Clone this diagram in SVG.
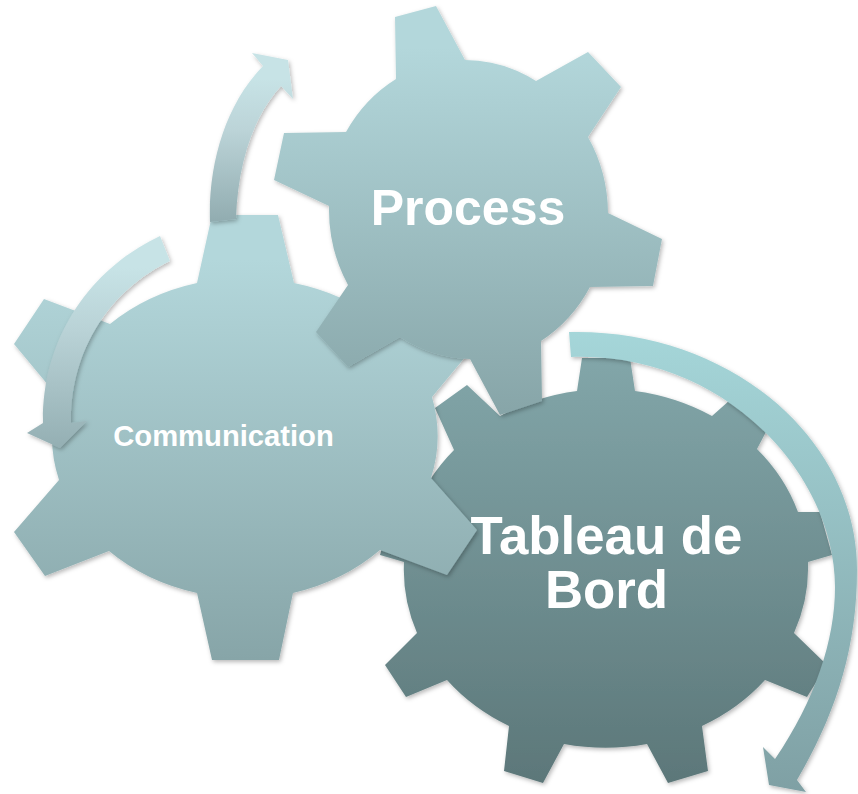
<svg xmlns="http://www.w3.org/2000/svg" width="858" height="794" viewBox="0 0 858 794">
<style>
.lbl{font-family:"Liberation Sans",Arial,sans-serif;font-weight:700;fill:#fff;text-anchor:middle}
.sh{filter:url(#shadow)}
</style>
<defs>
<filter id="shadow" x="-10%" y="-10%" width="120%" height="120%"><feDropShadow dx="1.5" dy="2" stdDeviation="2" flood-color="#000" flood-opacity="0.28"/></filter>
<linearGradient id="gLight" x1="0" y1="0" x2="0" y2="1"><stop offset="0.1" stop-color="#b3d7db"/><stop offset="1" stop-color="#87a5a8"/></linearGradient>
<linearGradient id="gDark" x1="0" y1="0" x2="0" y2="1"><stop offset="0" stop-color="#82a6a9"/><stop offset="1" stop-color="#5c7779"/></linearGradient>
<linearGradient id="gA1" x1="0" y1="0" x2="0" y2="1"><stop offset="0.15" stop-color="#c7e3e6"/><stop offset="0.45" stop-color="#bcd4d8"/><stop offset="1" stop-color="#91acb0"/></linearGradient>
<linearGradient id="gA2" x1="0" y1="0" x2="0" y2="1"><stop offset="0.15" stop-color="#c7e3e6"/><stop offset="0.45" stop-color="#b9d2d6"/><stop offset="1" stop-color="#94afb3"/></linearGradient>
<linearGradient id="gA3" x1="0" y1="0" x2="0" y2="1"><stop offset="0" stop-color="#a5d6d9"/><stop offset="1" stop-color="#7fa0a4"/></linearGradient>
</defs>
<rect width="858" height="794" fill="#fff"/>
<g id="node-tableau">
<path class="sh" fill="url(#gDark)" d="M582,358 L630,358 L635,391 A203,178 0 0 1 712,416 L730,400 L767,430 L757,449 A203,178 0 0 1 798,512 L820,512 L832,555 L808,562 A203,178 0 0 1 794,633 L827,665 L807,697 L765,680 A203,178 0 0 1 702,726 L708,771 L668,783 L647,744 A203,178 0 0 1 564,744 L543,783 L504,771 L509,726 A203,178 0 0 1 447,680 L406,697 L385,665 L417,633 A203,178 0 0 1 404,562 L380,555 L392,512 L414,512 A203,178 0 0 1 454,450 L435,408 L467,385 L500,416 A203,178 0 0 1 577,391 Z"/>
</g>
<g id="node-communication">
<path class="sh" fill="url(#gLight)" d="M212,215 L278,215 L294,283 A195,162 0 0 1 378,320 L446,299 L476,344 L432,397 A192,162 0 0 1 431,478 L477,530 L447,575 L380,550 A195,162 0 0 1 293,593 L279,660 L212,660 L197,593 A195,162 0 0 1 109,551 L45,576 L14,532 L59,480 A192,162 0 0 1 58,397 L14,344 L44,299 L110,324 A195,162 0 0 1 197,283 Z"/>
<text class="lbl" x="223.500" y="446" font-size="29.200">Communication</text>
</g>
<g id="node-process">
<path class="sh" fill="url(#gLight)" d="M395,17 L436,6 L465,60 A140,150 0 0 1 536,81 L588,52 L621,87 L588,137 A140,150 0 0 1 608,213 L662,239 L653,286 L590,287 A140,150 0 0 1 541,341 L542,401 L500,415 L470,359 A140,150 0 0 1 400,337 L348,367 L316,332 L348,285 A140,150 0 0 1 329,206 L274,180 L284,133 L346,132 A140,150 0 0 1 396,79 Z"/>
<text class="lbl" x="468" y="225" font-size="50">Process</text>
</g>
<g id="connectors">
<path class="sh" fill="url(#gA1)" d="M210,222 C208,165 225,105 263,66 L252,53 L288,60 L293,99 L281,86 C252,118 238,165 236,219 Z"/>
<path class="sh" fill="url(#gA2)" d="M160,236 C88,270 42,340 43,423 L27,433 L60,448 L87,421 L71,423 C70,350 110,290 170,261 Z"/>
<path class="sh" fill="url(#gA3)" d="M569,332 C725,328 857,435 857,570 C857,650 835,715 797,780 L806,792 L769,785 L763,747 L775,759 C815,700 835,640 835,587 C835,475 725,352 571,357 Z"/>
</g>
<g id="label-tableau">
<text class="lbl" x="606.500" y="553.500" font-size="52.800">Tableau de</text>
<text class="lbl" x="606.500" y="608" font-size="52.800">Bord</text>
</g>
</svg>
